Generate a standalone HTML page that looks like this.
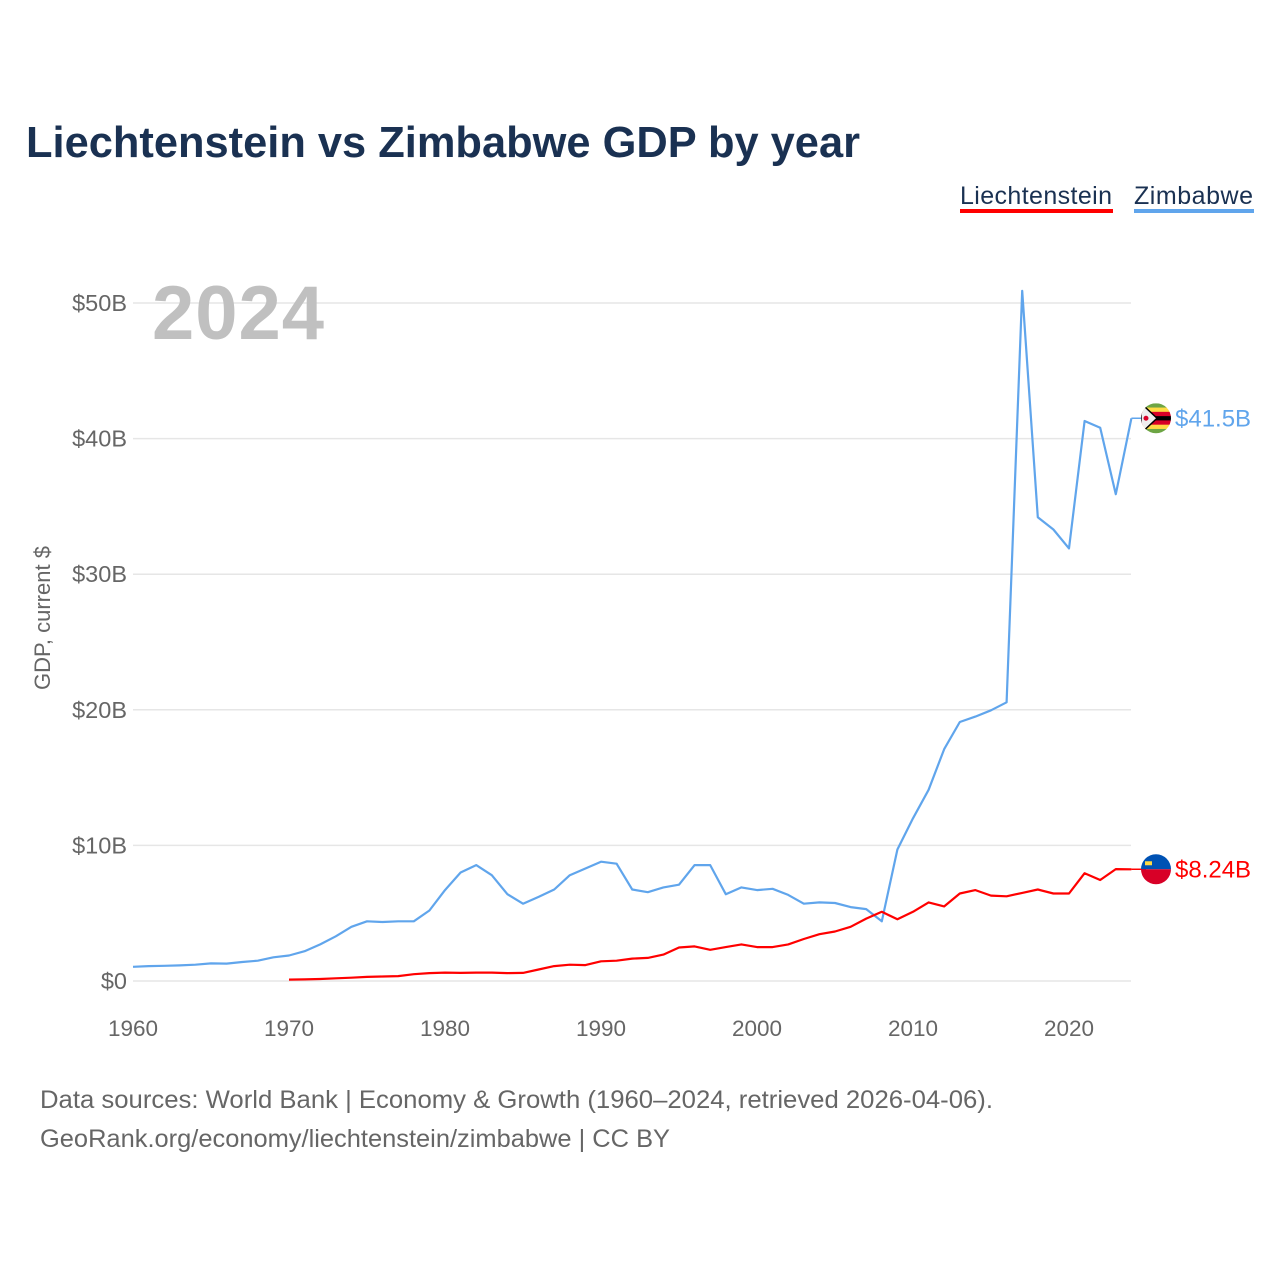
<!DOCTYPE html>
<html><head><meta charset="utf-8"><style>
html,body{margin:0;padding:0;background:#fff;}
body{width:1280px;height:1280px;overflow:hidden;font-family:"Liberation Sans",sans-serif;}
</style></head><body>
<svg id="chart" width="1280" height="1280" xmlns="http://www.w3.org/2000/svg" font-family="Liberation Sans, sans-serif">
<text x="26" y="157" font-size="44" font-weight="bold" fill="#1a3152" textLength="834" lengthAdjust="spacingAndGlyphs">Liechtenstein vs Zimbabwe GDP by year</text>
<g>
<text x="960" y="204" font-size="25" fill="#1a3152" textLength="152">Liechtenstein</text>
<rect x="960" y="209" width="153" height="4" fill="#ff0000"/>
<text x="1134" y="204" font-size="25" fill="#1a3152" textLength="119">Zimbabwe</text>
<rect x="1134" y="209" width="120" height="4" fill="#60a5ec"/>
</g>
<g id="grid"></g>
<text x="152" y="339" font-size="76" font-weight="bold" fill="#c0c0c0" textLength="172">2024</text>
<text transform="translate(50,618) rotate(-90)" text-anchor="middle" font-size="22" fill="#666">GDP, current $</text>
<g id="series"></g>
<text x="40" y="1108" font-size="25" fill="#666" textLength="953" lengthAdjust="spacingAndGlyphs">Data sources: World Bank | Economy &amp; Growth (1960–2024, retrieved 2026-04-06).</text>
<text x="40" y="1147" font-size="25" fill="#666" textLength="630" lengthAdjust="spacingAndGlyphs">GeoRank.org/economy/liechtenstein/zimbabwe | CC BY</text>
</svg>
<script>
const yearsZim = [1960,1961,1962,1963,1964,1965,1966,1967,1968,1969,1970,1971,1972,1973,1974,1975,1976,1977,1978,1979,1980,1981,1982,1983,1984,1985,1986,1987,1988,1989,1990,1991,1992,1993,1994,1995,1996,1997,1998,1999,2000,2001,2002,2003,2004,2005,2006,2007,2008,2009,2010,2011,2012,2013,2014,2015,2016,2017,2018,2019,2020,2021,2022,2023,2024];
const zimbabwe = [1.05,1.1,1.12,1.15,1.2,1.3,1.28,1.4,1.5,1.75,1.88,2.2,2.7,3.3,4.0,4.4,4.35,4.4,4.4,5.2,6.7,8.0,8.55,7.8,6.4,5.7,6.2,6.75,7.8,8.3,8.8,8.65,6.75,6.55,6.9,7.1,8.55,8.55,6.4,6.9,6.7,6.8,6.35,5.7,5.8,5.75,5.45,5.3,4.4,9.7,12.0,14.1,17.1,19.1,19.5,19.96,20.55,50.9,34.2,33.3,31.9,41.3,40.8,35.9,41.5];
const yearsLie = [1970,1971,1972,1973,1974,1975,1976,1977,1978,1979,1980,1981,1982,1983,1984,1985,1986,1987,1988,1989,1990,1991,1992,1993,1994,1995,1996,1997,1998,1999,2000,2001,2002,2003,2004,2005,2006,2007,2008,2009,2010,2011,2012,2013,2014,2015,2016,2017,2018,2019,2020,2021,2022,2023,2024];
const liechtenstein = [0.1,0.12,0.15,0.2,0.24,0.3,0.33,0.36,0.5,0.58,0.62,0.6,0.62,0.62,0.58,0.6,0.85,1.1,1.2,1.17,1.45,1.5,1.65,1.7,1.95,2.47,2.55,2.3,2.5,2.7,2.5,2.5,2.7,3.1,3.45,3.65,4.0,4.6,5.1,4.55,5.1,5.8,5.5,6.45,6.7,6.3,6.25,6.5,6.75,6.45,6.45,7.95,7.45,8.25,8.24];
const yTicks = [0,10,20,30,40,50];
const yTickLabels = ["$0","$10B","$20B","$30B","$40B","$50B"];
const xTicks = [1960,1970,1980,1990,2000,2010,2020];
const endLabels = ["$41.5B","$8.24B"];

const NS="http://www.w3.org/2000/svg";
const x = yr => 133 + (yr-1960)*15.6;
const y = v => 981 - v*13.56;
function mk(tag, attrs, parent){const e=document.createElementNS(NS,tag);for(const k in attrs)e.setAttribute(k,attrs[k]);parent.appendChild(e);return e;}
const grid=document.getElementById('grid'), series=document.getElementById('series');
yTicks.forEach((t,i)=>{
  const l=mk('line',{x1:133,x2:1131,y1:y(t),y2:y(t),stroke:'#e6e6e6','stroke-width':1.5},grid);
  
  
  const tx=mk('text',{x:127,y:y(t)+8,'text-anchor':'end','font-size':23.5,fill:'#666'},grid);
  tx.textContent=yTickLabels[i];
  
  
});
xTicks.forEach(t=>{
  const tx=mk('text',{x:x(t),y:1036,'text-anchor':'middle','font-size':22.5,fill:'#666'},grid);
  tx.textContent=t;
  
  
});
function line(years, vals, color, name){
  const d=years.map((yr,i)=>(i?'L':'M')+x(yr).toFixed(1)+','+y(vals[i]).toFixed(1)).join('');
  const p=mk('path',{d:d,fill:'none',stroke:color,'stroke-width':2.2,'stroke-linejoin':'round'},series);
  
  
}
line(yearsZim,zimbabwe,'#60a5ec','zimbabwe-line');
line(yearsLie,liechtenstein,'#ff0000','liechtenstein-line');
const zx=x(2024), zy=y(zimbabwe[zimbabwe.length-1]);
const lx=x(2024), ly=y(liechtenstein[liechtenstein.length-1]);
let c=mk('line',{x1:zx,x2:1146,y1:zy,y2:zy,stroke:'#60a5ec','stroke-width':1.5},series);

c=mk('line',{x1:lx,x2:1146,y1:ly,y2:ly,stroke:'#ff0000','stroke-width':1.5},series);

const zg=mk('g',{},series);


mk('clipPath',{id:'zc'},zg).appendChild(document.createElementNS(NS,'circle')).setAttribute('cx',1156);
const zc=document.querySelector('#zc circle');zc.setAttribute('cy',zy);zc.setAttribute('r',15);
const zcols=['#6da544','#ffda44','#d80027','#000','#d80027','#ffda44','#6da544'];
const zgi=mk('g',{'clip-path':'url(#zc)'},zg);
zcols.forEach((col,i)=>mk('rect',{x:1141,y:zy-15+i*30/7,width:30,height:30/7+0.5,fill:col},zgi));
mk('polygon',{points:`1141,${zy-15} 1157,${zy} 1141,${zy+15}`,fill:'#eee',stroke:'#000','stroke-width':1.5},zgi);
mk('circle',{cx:1146,cy:zy,r:2.5,fill:'#d80027'},zgi);
const lg=mk('g',{},series);


mk('path',{d:`M1141,${ly} A15,15 0 0 1 1171,${ly} Z`,fill:'#0052b4'},lg);
mk('path',{d:`M1141,${ly} A15,15 0 0 0 1171,${ly} Z`,fill:'#d80027'},lg);
mk('rect',{x:1145,y:ly-8,width:7,height:4,fill:'#ffda44'},lg);
let t=mk('text',{x:1175,y:zy+8,'font-size':24,fill:'#60a5ec'},series);
t.textContent=endLabels[0];
t=mk('text',{x:1175,y:ly+8,'font-size':24,fill:'#ff0000'},series);
t.textContent=endLabels[1];
</script>
</body></html>
